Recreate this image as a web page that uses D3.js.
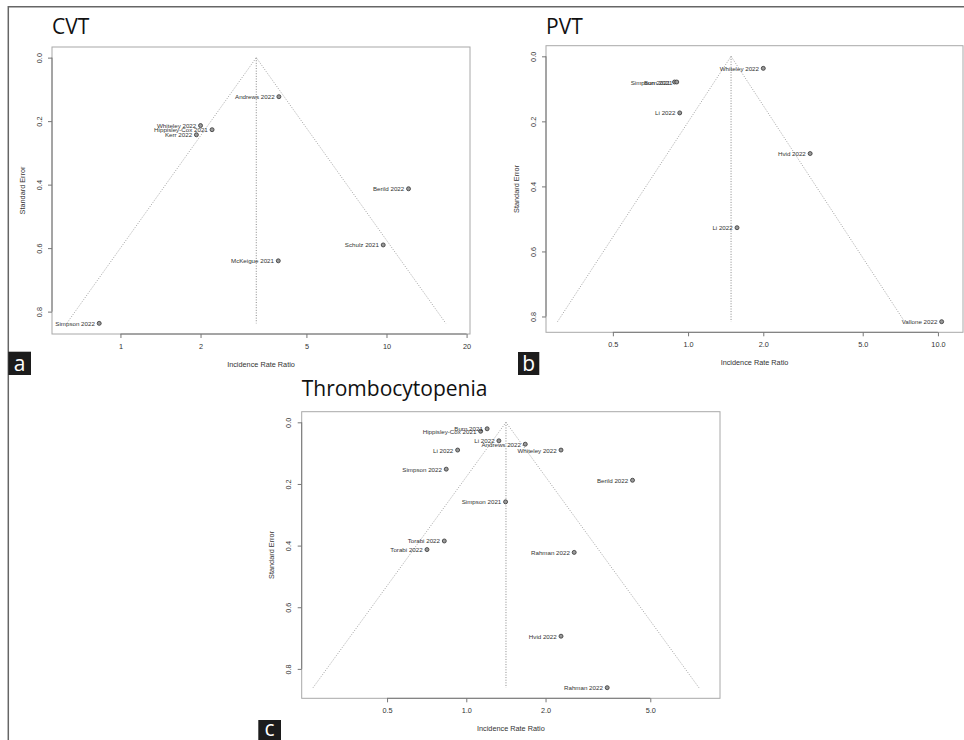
<!DOCTYPE html>
<html>
<head>
<meta charset="utf-8">
<script src="https://cdn.jsdelivr.net/npm/d3@7/dist/d3.min.js"></script>
<style>
  html, body { margin: 0; padding: 0; background: #fff; }
  svg { display: block; }
  .lab { font-family: "Liberation Sans", Arial, sans-serif; fill: #333; }
  .title { font-family: "Open Sans", "Noto Sans", sans-serif; fill: #111; }
</style>
</head>
<body>
<svg id="fig" width="964" height="740"></svg>
<script>
// ---- CVT ----
const cvtStudies = ["Andrews 2022", "Whiteley 2022", "Hippisley-Cox 2021", "Kerr 2022",
                    "Berild 2022", "Schulz 2021", "McKeigue 2021", "Simpson 2022"];
const cvtIRR = [3.94, 2.00, 2.21, 1.93, 12.1, 9.72, 3.92, 0.832];
const cvtSE  = [0.123, 0.214, 0.227, 0.243, 0.413, 0.590, 0.640, 0.837];
const cvtPooled = 3.24;
const cvtRange = [0.553, 20.6];
const cvtTicks = [1, 2, 5, 10, 20];
const cvtTickLabels = ["1", "2", "5", "10", "20"];

// ---- PVT ----
const pvtStudies = ["Whiteley 2022", "Simpson 2021", "Burn 2021", "Li 2022",
                    "Hvid 2022", "Li 2022", "Vallone 2022"];
const pvtIRR = [2.00, 0.883, 0.901, 0.926, 3.08, 1.57, 10.35];
const pvtSE  = [0.037, 0.079, 0.079, 0.174, 0.299, 0.527, 0.816];
const pvtPooled = 1.486;
const pvtRange = [0.270, 12.6];
const pvtTicks = [0.5, 1, 2, 5, 10];
const pvtTickLabels = ["0.5", "1.0", "2.0", "5.0", "10.0"];

// ---- Thrombocytopenia ----
const thrStudies = ["Burn 2021", "Hippisley-Cox 2021", "Li 2022", "Andrews 2022", "Li 2022",
                    "Whiteley 2022", "Simpson 2022", "Berild 2022", "Simpson 2021",
                    "Torabi 2022", "Torabi 2022", "Rahman 2022", "Hvid 2022", "Rahman 2022"];
const thrIRR = [1.20, 1.134, 1.33, 1.675, 0.927, 2.29, 0.839, 4.28, 1.41,
                0.825, 0.709, 2.57, 2.29, 3.43];
const thrSE  = [0.021, 0.029, 0.060, 0.071, 0.090, 0.090, 0.152, 0.188, 0.258,
                0.385, 0.413, 0.422, 0.694, 0.861];
const thrPooled = 1.415;
const thrRange = [0.237, 9.2];
const thrTicks = [0.5, 1, 2, 5];
const thrTickLabels = ["0.5", "1.0", "2.0", "5.0"];

// shared y axis
const seTicks = [0, 0.2, 0.4, 0.6, 0.8];
const seTickLabels = ["0.0", "0.2", "0.4", "0.6", "0.8"];

const svg = d3.select("#fig");

// outer frame (top and left rules)
svg.append("line").attr("x1", 8).attr("y1", 6.7).attr("x2", 964).attr("y2", 6.7)
  .attr("stroke", "#666").attr("stroke-width", 1.5);
svg.append("line").attr("x1", 8.3).attr("y1", 6).attr("x2", 8.3).attr("y2", 740)
  .attr("stroke", "#666").attr("stroke-width", 1.5);

const panels = [
  { title: "CVT", letter: "a", studies: cvtStudies, irr: cvtIRR, se: cvtSE, pooled: cvtPooled,
    range: cvtRange, ticks: cvtTicks, tickLabels: cvtTickLabels,
    box: { x0: 52, y0: 47, x1: 470, y1: 334 }, titleY: 33.5,
    letterBox: { x: 8.3, y: 351.7, w: 22.7, h: 23.3 } },
  { title: "PVT", letter: "b", studies: pvtStudies, irr: pvtIRR, se: pvtSE, pooled: pvtPooled,
    range: pvtRange, ticks: pvtTicks, tickLabels: pvtTickLabels,
    box: { x0: 546, y0: 45.7, x1: 963, y1: 332.3 }, titleY: 33.5,
    letterBox: { x: 518, y: 352, w: 21.3, h: 23 } },
  { title: "Thrombocytopenia", letter: "c", studies: thrStudies, irr: thrIRR, se: thrSE, pooled: thrPooled,
    range: thrRange, ticks: thrTicks, tickLabels: thrTickLabels,
    box: { x0: 301.7, y0: 411.7, x1: 720, y1: 698.3 }, titleY: 396,
    letterBox: { x: 258.3, y: 720, w: 22.7, h: 20 } }
];

const z = 1.96;

panels.forEach(p => {
  const b = p.box;
  const maxSE = d3.max(p.se);
  const x = d3.scaleLog().domain(p.range).range([b.x0, b.x1]);
  const y = d3.scaleLinear().domain([-0.04 * maxSE, 1.04 * maxSE]).range([b.y0, b.y1]);
  const g = svg.append("g");

  // title
  g.append("text").attr("class", "title").attr("x", b.x0).attr("y", p.titleY)
    .attr("font-size", 21).text(p.title);

  // plot frame
  g.append("rect").attr("x", b.x0).attr("y", b.y0)
    .attr("width", b.x1 - b.x0).attr("height", b.y1 - b.y0)
    .attr("fill", "none").attr("stroke", "#a8a8a8").attr("stroke-width", 1);

  // funnel (pseudo 95% limits on the log scale) and pooled line
  const lnC = Math.log(p.pooled);
  const funnel = [
    [Math.exp(lnC - z * maxSE), maxSE],
    [p.pooled, 0],
    [Math.exp(lnC + z * maxSE), maxSE]
  ];
  g.append("path")
    .attr("d", d3.line().x(d => x(d[0])).y(d => y(d[1]))(funnel))
    .attr("fill", "none").attr("stroke", "#8a8a8a").attr("stroke-width", 0.8)
    .attr("stroke-dasharray", "1,1.6");
  g.append("line")
    .attr("x1", x(p.pooled)).attr("x2", x(p.pooled))
    .attr("y1", y(0)).attr("y2", y(maxSE))
    .attr("stroke", "#6a6a6a").attr("stroke-width", 0.8)
    .attr("stroke-dasharray", "1,1.6");

  // x axis
  const xAxis = g.append("g").attr("transform", `translate(0,${b.y1})`)
    .call(d3.axisBottom(x).tickValues(p.ticks)
      .tickFormat((d, i) => p.tickLabels[i]).tickSizeOuter(0).tickSize(4).tickPadding(6));
  xAxis.select(".domain").remove();
  xAxis.selectAll("line").attr("stroke", "#777");
  xAxis.selectAll("text").attr("class", "lab").attr("font-size", 7.3).attr("fill", "#333");
  g.append("line")
    .attr("x1", x(p.ticks[0])).attr("x2", x(p.ticks[p.ticks.length - 1]))
    .attr("y1", b.y1).attr("y2", b.y1).attr("stroke", "#777");

  // y axis with labels parallel to the axis
  const yAxis = g.append("g").attr("transform", `translate(${b.x0},0)`)
    .call(d3.axisLeft(y).tickValues(seTicks)
      .tickFormat((d, i) => seTickLabels[i]).tickSizeOuter(0).tickSize(4));
  yAxis.select(".domain").remove();
  yAxis.selectAll("line").attr("stroke", "#777");
  yAxis.selectAll("text").attr("class", "lab").attr("font-size", 7.3).attr("fill", "#333")
    .attr("text-anchor", "middle").attr("dy", null).attr("x", null)
    .attr("transform", "translate(-10.5,0) rotate(-90)");
  g.append("line")
    .attr("x1", b.x0).attr("x2", b.x0)
    .attr("y1", y(seTicks[0])).attr("y2", y(seTicks[seTicks.length - 1])).attr("stroke", "#777");

  // axis titles
  g.append("text").attr("class", "lab").attr("font-size", 7.3)
    .attr("text-anchor", "middle")
    .attr("transform", `translate(${b.x0 - 27.5},${(b.y0 + b.y1) / 2}) rotate(-90)`)
    .text("Standard Error");
  g.append("text").attr("class", "lab").attr("font-size", 7.3)
    .attr("text-anchor", "middle")
    .attr("x", (b.x0 + b.x1) / 2).attr("y", b.y1 + 33)
    .text("Incidence Rate Ratio");

  // studies
  const pts = p.studies.map((s, i) => ({ s, irr: p.irr[i], se: p.se[i] }));
  g.selectAll(".pt").data(pts).enter().append("circle")
    .attr("cx", d => x(d.irr)).attr("cy", d => y(d.se)).attr("r", 2)
    .attr("fill", "#9a9a9a").attr("stroke", "#333").attr("stroke-width", 0.8);
  g.selectAll(".sl").data(pts).enter().append("text")
    .attr("class", "lab").attr("font-size", 6.2).attr("fill", "#222")
    .attr("text-anchor", "end").attr("dominant-baseline", "central")
    .attr("x", d => x(d.irr) - 4.3).attr("y", d => y(d.se))
    .text(d => d.s);

  // panel letter
  const lb = p.letterBox;
  g.append("rect").attr("x", lb.x).attr("y", lb.y).attr("width", lb.w).attr("height", lb.h)
    .attr("fill", "#1c1c1c");
  g.append("text").attr("x", lb.x + lb.w / 2).attr("y", lb.y + lb.h - 4)
    .attr("text-anchor", "middle").attr("font-size", 21)
    .attr("font-family", "'Open Sans', 'Noto Sans', sans-serif").attr("fill", "#fff")
    .text(p.letter);
});
</script>
</body>
</html>
